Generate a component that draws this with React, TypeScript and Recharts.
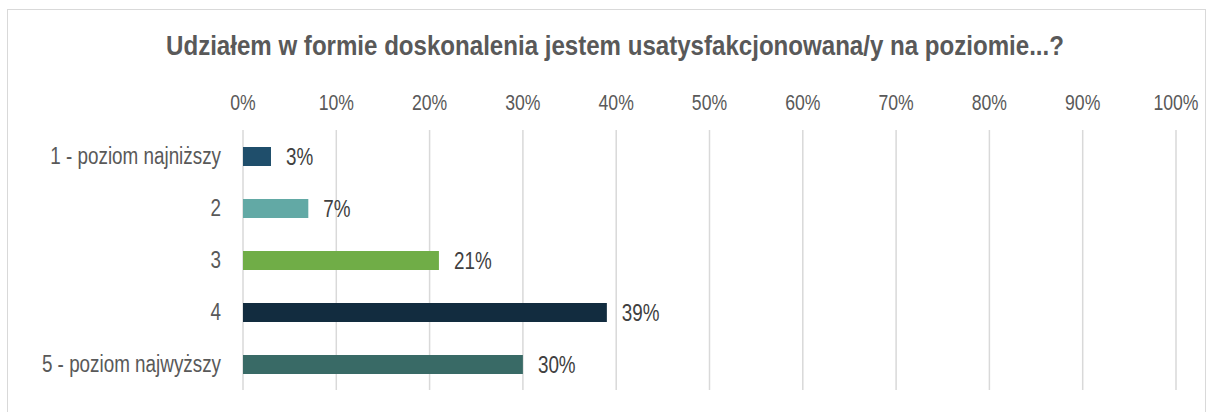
import { BarChart, Bar, XAxis, YAxis, CartesianGrid, Cell, LabelList } from 'recharts'

const categories = ['1 - poziom najniższy', '2', '3', '4', '5 - poziom najwyższy']
const values = [3, 7, 21, 39, 30]
const colors = ['#1F4E6B', '#62A9A5', '#70AD47', '#122C3F', '#396A66']
const xTicks = [0, 10, 20, 30, 40, 50, 60, 70, 80, 90, 100]

const data = categories.map((name, i) => ({ name, value: values[i] }))

// no narrow font installed, so squeeze Liberation Sans horizontally
const FONT = '"Liberation Sans", Arial, sans-serif'
const NARROW = 0.82

function TopTick({ x, y, payload }: any) {
  return (
    <g transform={`translate(${x},${y})`}>
      <text transform={`scale(${NARROW},1)`} textAnchor="middle" fill="#595959" fontSize={21.5} fontFamily={FONT}>
        {`${payload.value}%`}
      </text>
    </g>
  )
}

function LeftTick({ x, y, payload }: any) {
  return (
    <g transform={`translate(${x},${y})`}>
      <text transform={`scale(${NARROW},1)`} textAnchor="end" dy="0.36em" fill="#595959" fontSize={23} fontFamily={FONT}>
        {payload.value}
      </text>
    </g>
  )
}

function ValueLabel({ x, y, width, height, value }: any) {
  return (
    <g transform={`translate(${x + width + 15},${y + height / 2})`}>
      <text transform={`scale(${NARROW},1)`} textAnchor="start" dy="0.36em" fill="#404040" fontSize={23} fontFamily={FONT}>
        {`${value}%`}
      </text>
    </g>
  )
}

export default function App() {
  return (
    <div style={{ position: 'absolute', left: 0, top: 0, width: 1206, height: 412, background: '#fff', overflow: 'hidden', fontFamily: FONT }}>
      <div style={{ position: 'absolute', left: 7, top: 9, width: 1197, height: 420, border: '1px solid #D9D9D9' }} />
      <div
        style={{
          position: 'absolute',
          left: 0,
          top: 32,
          width: 1230,
          textAlign: 'center',
          fontSize: 28,
          lineHeight: '28px',
          fontWeight: 'bold',
          color: '#595959',
          whiteSpace: 'nowrap',
          transform: 'scaleX(0.86)',
          transformOrigin: '615px 0',
        }}
      >
        Udziałem w formie doskonalenia jestem usatysfakcjonowana/y na poziomie...?
      </div>
      <div style={{ position: 'absolute', left: 0, top: 0 }}>
        <BarChart
          width={1206}
          height={412}
          data={data}
          layout="vertical"
          margin={{ top: 100, right: 30, bottom: 22, left: 8 }}
          barCategoryGap={0}
        >
          <CartesianGrid vertical horizontal={false} stroke="#D9D9D9" strokeWidth={1.5} />
          <XAxis
            type="number"
            orientation="top"
            domain={[0, 100]}
            ticks={xTicks}
            height={30}
            axisLine={false}
            tickLine={false}
            tickSize={0}
            tickMargin={20}
            tick={<TopTick />}
            interval={0}
          />
          <YAxis
            type="category"
            dataKey="name"
            width={235}
            axisLine={false}
            tickLine={false}
            tickSize={0}
            tickMargin={22}
            tick={<LeftTick />}
            interval={0}
          />
          <Bar dataKey="value" barSize={19} isAnimationActive={false}>
            {data.map((entry, i) => (
              <Cell key={`cell-${i}`} fill={colors[i]} />
            ))}
            <LabelList dataKey="value" content={<ValueLabel />} />
          </Bar>
        </BarChart>
      </div>
    </div>
  )
}
